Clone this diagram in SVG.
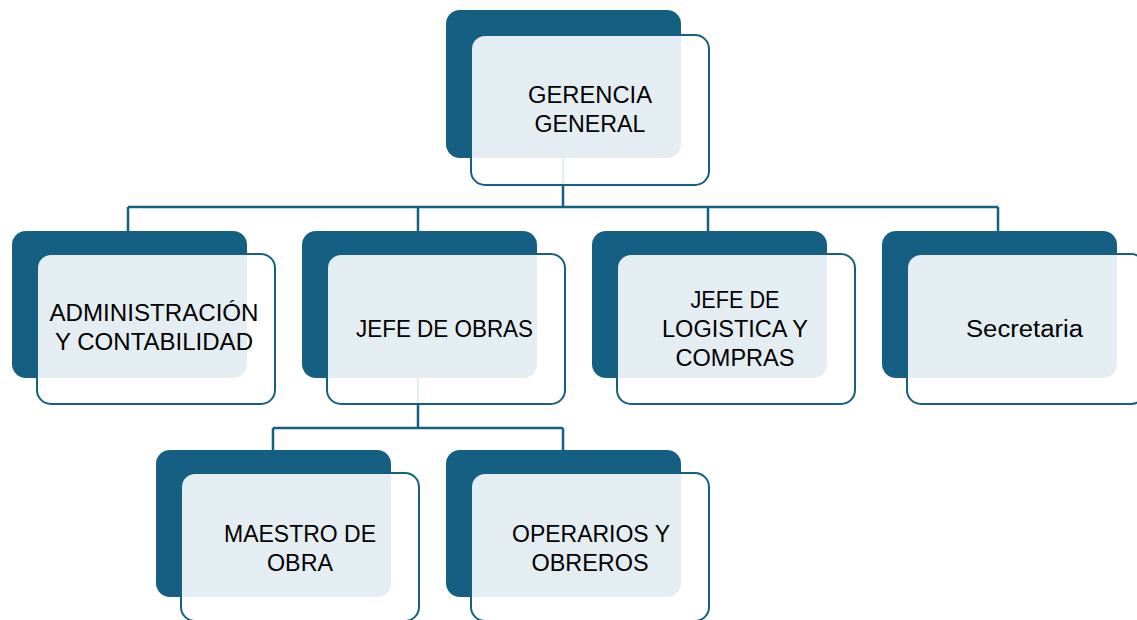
<svg xmlns="http://www.w3.org/2000/svg" width="1137" height="620" viewBox="0 0 1137 620">
<style>
.bg{fill:#ffffff}
.dark{fill:#156082}
.front{fill:#ffffff;fill-opacity:0.885;stroke:#156082;stroke-width:2}
.conn{fill:none;stroke:#156082;stroke-width:2.5}
.t{font-family:"Liberation Sans",Arial,sans-serif;font-size:23px;fill:#000000;text-anchor:middle}
</style>
<rect class="bg" x="0" y="0" width="1137" height="620"/>
<g id="connectors">
<path class="conn" d="M563 100 V207 M128 207 H998 M128 207 V245 M418 207 V245 M708 207 V245 M998 207 V245"/>
<path class="conn" d="M418 320 V428 M273 428 H563 M273 428 V465 M563 428 V465"/>
</g>
<g id="gerencia">
<rect class="dark" x="446" y="10" width="235" height="148" rx="14"/>
<rect class="front" x="471" y="35" width="238" height="150" rx="14"/>
<text class="t" x="590" y="103" textLength="124" lengthAdjust="spacingAndGlyphs">GERENCIA</text>
<text class="t" x="590" y="132" textLength="111" lengthAdjust="spacingAndGlyphs">GENERAL</text>
</g>
<g id="administracion">
<rect class="dark" x="12" y="231" width="235" height="147" rx="14"/>
<rect class="front" x="37" y="254" width="238" height="150" rx="14"/>
<text class="t" x="154" y="321" textLength="209" lengthAdjust="spacingAndGlyphs">ADMINISTRACIÓN</text>
<text class="t" x="154" y="350" textLength="198" lengthAdjust="spacingAndGlyphs">Y CONTABILIDAD</text>
</g>
<g id="jefe-obras">
<rect class="dark" x="302" y="231" width="235" height="147" rx="14"/>
<rect class="front" x="327" y="254" width="238" height="150" rx="14"/>
<text class="t" x="444.5" y="337" textLength="177" lengthAdjust="spacingAndGlyphs">JEFE DE OBRAS</text>
</g>
<g id="jefe-logistica">
<rect class="dark" x="592" y="231" width="235" height="147" rx="14"/>
<rect class="front" x="617" y="254" width="238" height="150" rx="14"/>
<text class="t" x="735" y="308" textLength="89" lengthAdjust="spacingAndGlyphs">JEFE DE</text>
<text class="t" x="735" y="337" textLength="146" lengthAdjust="spacingAndGlyphs">LOGISTICA Y</text>
<text class="t" x="735" y="366" textLength="119" lengthAdjust="spacingAndGlyphs">COMPRAS</text>
</g>
<g id="secretaria">
<rect class="dark" x="882" y="231" width="235" height="147" rx="14"/>
<rect class="front" x="907" y="254" width="238" height="150" rx="14"/>
<text class="t" x="1024.5" y="337" textLength="117" lengthAdjust="spacingAndGlyphs">Secretaria</text>
</g>
<g id="maestro">
<rect class="dark" x="156" y="450" width="235" height="147" rx="14"/>
<rect class="front" x="181" y="473" width="238" height="148" rx="14"/>
<text class="t" x="300" y="542" textLength="152" lengthAdjust="spacingAndGlyphs">MAESTRO DE</text>
<text class="t" x="300" y="571" textLength="66" lengthAdjust="spacingAndGlyphs">OBRA</text>
</g>
<g id="operarios">
<rect class="dark" x="446" y="450" width="235" height="147" rx="14"/>
<rect class="front" x="471" y="473" width="238" height="148" rx="14"/>
<text class="t" x="591" y="542" textLength="158" lengthAdjust="spacingAndGlyphs">OPERARIOS Y</text>
<text class="t" x="590" y="571" textLength="117" lengthAdjust="spacingAndGlyphs">OBREROS</text>
</g>
</svg>
